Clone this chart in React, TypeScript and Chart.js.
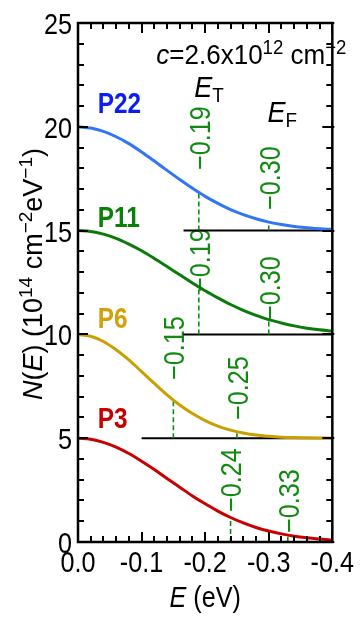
import React, { useEffect, useRef } from "react";
import { Chart, registerables } from "chart.js";
Chart.register(...registerables);

// ---------------- data ----------------
const ENERGY = [0, -0.02, -0.04, -0.06, -0.08, -0.1, -0.12, -0.14, -0.16, -0.18, -0.2, -0.22, -0.24, -0.26, -0.28, -0.3, -0.32, -0.34, -0.36, -0.38, -0.4];
const P22 = [20.0, 19.94, 19.78, 19.52, 19.19, 18.79, 18.35, 17.9, 17.46, 17.04, 16.65, 16.31, 16.01, 15.77, 15.57, 15.41, 15.29, 15.2, 15.14, 15.09, 15.06];
const P11 = [15.0, 14.96, 14.83, 14.63, 14.35, 14.03, 13.66, 13.27, 12.87, 12.48, 12.1, 11.76, 11.44, 11.16, 10.92, 10.71, 10.55, 10.41, 10.3, 10.22, 10.16];
const P6 = [10.0, 9.91, 9.66, 9.26, 8.77, 8.21, 7.64, 7.09, 6.6, 6.19, 5.85, 5.58, 5.39, 5.25, 5.15, 5.09, 5.05, 5.03, 5.02, 5.01, 5.0];
const P3 = [5.0, 4.95, 4.8, 4.57, 4.26, 3.89, 3.49, 3.06, 2.64, 2.22, 1.84, 1.49, 1.18, 0.92, 0.7, 0.53, 0.39, 0.28, 0.2, 0.14, 0.09];

const SERIES_NAMES = ["P22", "P11", "P6", "P3"];
const LEVELS = [15, 10, 5, 0];
const BASELINE_START = [-0.166, -0.166, -0.1];
const E_T = [-0.19, -0.19, -0.15, -0.24];
const E_F = [-0.3, -0.3, -0.25, -0.33];
const N_AT_ET = [16.87, 12.3, 6.84, 1.16];
const N_AT_EF = [15.43, 10.69, 5.31, 0.34];
const E_T_TEXT = ["\u22120.19", "\u22120.19", "\u22120.15", "\u22120.24"];
const E_F_TEXT = ["\u22120.30", "\u22120.30", "\u22120.25", "\u22120.33"];

// ---------------- layout / style ----------------
const ET_LABEL_AT = [17.92, 12.04, 7.8, 1.45];
const EF_LABEL_AT = [15.99, 10.69, 5.88, 0.43];
const NAME_AT = [20.66, 15.17, 10.31, 5.49];
const CURVE_COLORS = ["#3275f7", "#0b7a0b", "#c9a000", "#c80000"];
const NAME_COLORS = ["#0a1ef2", "#0a800a", "#d4a00a", "#c80000"];
const GREEN = "#128a12";
const FONT = '"Liberation Sans", Arial, sans-serif';
const SQUEEZE = 0.84;

type Seg = { t: string; it?: boolean; b?: boolean; sup?: boolean; sub?: boolean };

function drawRich(
  ctx: CanvasRenderingContext2D,
  segs: Seg[],
  x: number,
  y: number,
  size: number,
  color: string,
  align: "left" | "center" | "right",
  rot = 0,
  hscale = 1
) {
  ctx.save();
  ctx.translate(x, y);
  if (rot) ctx.rotate(rot);
  ctx.scale(hscale, 1);
  const fontFor = (s: Seg) =>
    `${s.it ? "italic " : ""}${s.b ? "bold " : ""}${s.sup || s.sub ? Math.round(size * 0.7) : size}px ${FONT}`;
  let total = 0;
  for (const s of segs) {
    ctx.font = fontFor(s);
    total += ctx.measureText(s.t).width;
  }
  let cx = align === "center" ? -total / 2 : align === "right" ? -total : 0;
  ctx.fillStyle = color;
  ctx.textBaseline = "alphabetic";
  ctx.textAlign = "left";
  for (const s of segs) {
    ctx.font = fontFor(s);
    const dy = s.sup ? -size * 0.36 : s.sub ? size * 0.18 : 0;
    ctx.fillText(s.t, cx, dy);
    cx += ctx.measureText(s.t).width;
  }
  ctx.restore();
}

const decorPlugin = {
  id: "decor",
  beforeDatasetsDraw(chart: any) {
    const ctx: CanvasRenderingContext2D = chart.ctx;
    const xs = chart.scales.x;
    const ys = chart.scales.y;
    const size = 30;
    for (let i = 0; i < 4; i++) {
      const pairs: [number, number, string][] = [
        [E_T[i], ET_LABEL_AT[i], E_T_TEXT[i]],
        [E_F[i], EF_LABEL_AT[i], E_F_TEXT[i]],
      ];
      for (const [e, n, txt] of pairs) {
        const px = xs.getPixelForValue(e);
        const py = ys.getPixelForValue(n);
        drawRich(ctx, [{ t: txt }], px + size * 0.36, py, size, GREEN, "left", -Math.PI / 2, SQUEEZE);
      }
    }
  },
  afterDatasetsDraw(chart: any) {
    const ctx: CanvasRenderingContext2D = chart.ctx;
    const xs = chart.scales.x;
    const ys = chart.scales.y;
    const a = chart.chartArea;
    // frame
    ctx.save();
    ctx.strokeStyle = "#000";
    ctx.lineWidth = 2.5;
    ctx.strokeRect(a.left, a.top, a.right - a.left, a.bottom - a.top);
    ctx.lineWidth = 2;
    ctx.beginPath();
    for (let i = 0; i <= 20; i++) {
      const v = -i * 0.02;
      const px = Math.round(xs.getPixelForValue(v));
      const len = i % 5 === 0 ? 10 : 6;
      ctx.moveTo(px, a.bottom);
      ctx.lineTo(px, a.bottom - len);
      ctx.moveTo(px, a.top);
      ctx.lineTo(px, a.top + len);
    }
    for (let v = 0; v <= 25; v++) {
      const py = Math.round(ys.getPixelForValue(v));
      const len = v % 5 === 0 ? 10 : 6;
      ctx.moveTo(a.left, py);
      ctx.lineTo(a.left + len, py);
      ctx.moveTo(a.right + (v % 5 === 0 ? 2 : 0), py);
      ctx.lineTo(a.right - len, py);
    }
    ctx.stroke();
    ctx.restore();

    // tick labels from the scales' own ticks
    for (const t of xs.ticks) {
      const v = t.value;
      const txt = Math.abs(v) < 1e-9 ? "0.0" : Number(v).toFixed(1);
      drawRich(ctx, [{ t: txt }], xs.getPixelForValue(v), a.bottom + 30, 30, "#000", "center", 0, SQUEEZE);
    }
    for (const t of ys.ticks) {
      const v = t.value;
      drawRich(ctx, [{ t: String(v) }], a.left - 6, ys.getPixelForValue(v) + 11, 30, "#000", "right", 0, SQUEEZE);
    }

    // series names
    for (let i = 0; i < 4; i++) {
      drawRich(ctx, [{ t: SERIES_NAMES[i], b: true }], xs.getPixelForValue(-0.031), ys.getPixelForValue(NAME_AT[i]), 29, NAME_COLORS[i], "left", 0, SQUEEZE);
    }
    // concentration
    drawRich(
      ctx,
      [{ t: "c", it: true }, { t: "=2.6x10" }, { t: "12", sup: true }, { t: " cm" }, { t: "\u22122", sup: true }],
      xs.getPixelForValue(-0.123),
      ys.getPixelForValue(23.04),
      28,
      "#000",
      "left",
      0,
      0.93
    );
    drawRich(ctx, [{ t: "E", it: true }, { t: "T", sub: true }], xs.getPixelForValue(-0.183), ys.getPixelForValue(21.45), 30, "#000", "left", 0, 0.9);
    drawRich(ctx, [{ t: "E", it: true }, { t: "F", sub: true }], xs.getPixelForValue(-0.298), ys.getPixelForValue(20.25), 30, "#000", "left", 0, 0.9);

    // axis titles
    drawRich(ctx, [{ t: "E", it: true }, { t: " (eV)" }], (a.left + a.right) / 2, 607, 30, "#000", "center", 0, SQUEEZE);
    drawRich(
      ctx,
      [
        { t: "N", it: true },
        { t: "(" },
        { t: "E", it: true },
        { t: ") (10" },
        { t: "14", sup: true },
        { t: " cm" },
        { t: "\u22122", sup: true },
        { t: "eV" },
        { t: "\u22121", sup: true },
        { t: ")" },
      ],
      42,
      274,
      27,
      "#000",
      "center",
      -Math.PI / 2
    );
  },
};

export default function App() {
  const ref = useRef<HTMLCanvasElement | null>(null);
  useEffect(() => {
    if (!ref.current) return;
    const curves = [P22, P11, P6, P3].map((arr, i) => ({
      label: SERIES_NAMES[i],
      data: ENERGY.map((e, j) => ({ x: e, y: arr[j] })),
      borderColor: CURVE_COLORS[i],
      borderWidth: 3,
      pointRadius: 0,
      cubicInterpolationMode: "monotone" as const,
      order: 0,
    }));
    const baselines = BASELINE_START.map((s, i) => ({
      label: "base" + i,
      data: [
        { x: s, y: LEVELS[i] },
        { x: -0.4, y: LEVELS[i] },
      ],
      borderColor: "#000",
      borderWidth: 2,
      pointRadius: 0,
      order: 2,
    }));
    const dashes: any[] = [];
    for (let i = 0; i < 4; i++) {
      dashes.push({
        label: "et" + i,
        data: [
          { x: E_T[i], y: LEVELS[i] },
          { x: E_T[i], y: N_AT_ET[i] },
        ],
        borderColor: GREEN,
        borderWidth: 1.6,
        borderDash: [5, 3],
        pointRadius: 0,
        order: 1,
      });
      dashes.push({
        label: "ef" + i,
        data: [
          { x: E_F[i], y: LEVELS[i] },
          { x: E_F[i], y: N_AT_EF[i] },
        ],
        borderColor: GREEN,
        borderWidth: 1.6,
        borderDash: [5, 3],
        pointRadius: 0,
        order: 1,
      });
    }
    const chart = new Chart(ref.current, {
      type: "line",
      data: { datasets: [...curves, ...dashes, ...baselines] as any },
      options: {
        animation: false,
        responsive: false,
        layout: { padding: { top: 23, right: 22, left: 0, bottom: 0 } },
        plugins: { legend: { display: false }, tooltip: { enabled: false } },
        scales: {
          x: {
            type: "linear",
            min: -0.4,
            max: 0,
            reverse: true,
            grid: { display: false, drawTicks: false },
            border: { display: false },
            ticks: {
              stepSize: 0.1,
              padding: 7,
              color: "rgba(0,0,0,0)",
              font: { family: FONT, size: 24 },
              maxRotation: 0,
              callback: (v: any) => (Math.abs(v) < 1e-9 ? "0.0" : Number(v).toFixed(1)),
            },
            afterFit: (s: any) => {
              s.height = 76;
            },
          },
          y: {
            type: "linear",
            min: 0,
            max: 25,
            grid: { display: false, drawTicks: false },
            border: { display: false },
            ticks: {
              stepSize: 5,
              padding: 6,
              color: "rgba(0,0,0,0)",
              font: { family: FONT, size: 24 },
            },
            afterFit: (s: any) => {
              s.width = 78;
            },
          },
        },
      },
      plugins: [decorPlugin],
    });
    return () => chart.destroy();
  }, []);
  return (
    <div style={{ position: "fixed", left: 0, top: 0, width: 360, height: 618, background: "#fff" }}>
      <canvas ref={ref} width={360} height={618} style={{ display: "block" }} />
    </div>
  );
}
